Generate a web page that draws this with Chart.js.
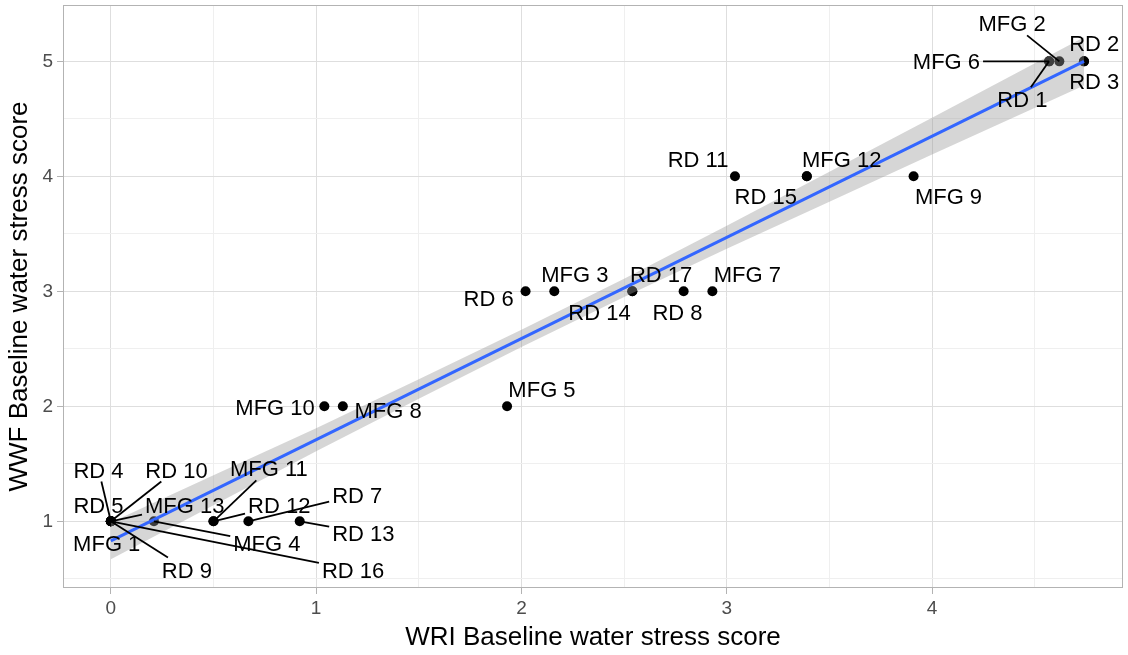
<!DOCTYPE html>
<html>
<head>
<meta charset="utf-8">
<script src="https://cdn.jsdelivr.net/npm/chart.js@4"></script>
<style>
  html, body { margin: 0; padding: 0; background: #fff; }
  #wrap { width: 1128px; height: 655px; }
</style>
</head>
<body>
<div id="wrap"><canvas id="chart" width="1128" height="655"></canvas></div>
<script>
// points (WRI score, WWF score)
const pointNames = ['RD 1', 'RD 2', 'RD 3', 'RD 4', 'RD 5', 'RD 6', 'RD 7', 'RD 8', 'RD 9', 'RD 10',
    'RD 11', 'RD 12', 'RD 13', 'RD 14', 'RD 15', 'RD 16', 'RD 17',
    'MFG 1', 'MFG 2', 'MFG 3', 'MFG 4', 'MFG 5', 'MFG 6', 'MFG 7', 'MFG 8', 'MFG 9',
    'MFG 10', 'MFG 11', 'MFG 12', 'MFG 13'];
const wriScore = [4.57, 4.74, 4.74, 0, 0, 2.02, 0.67, 2.79, 0, 0,
    3.04, 0.50, 0.92, 2.54, 3.39, 0, 2.54,
    0, 4.62, 2.16, 0.21, 1.93, 4.57, 2.93, 1.13, 3.91,
    1.04, 0.50, 3.39, 0];
const wwfScore = [5, 5, 5, 1, 1, 3, 1, 3, 1, 1,
    4, 1, 1, 3, 4, 1, 3,
    1, 5, 3, 1, 2, 5, 3, 2, 4,
    2, 1, 4, 1];

// where each repelled label sits (data units) and whether it gets a segment
const labelX = [4.44, 4.79, 4.79, -0.06, -0.06, 1.84, 1.20, 2.76, 0.37, 0.32,
    2.86, 0.82, 1.23, 2.38, 3.19, 1.18, 2.68,
    -0.02, 4.39, 2.26, 0.76, 2.10, 4.07, 3.10, 1.35, 4.08,
    0.80, 0.77, 3.56, 0.36];
const labelY = [4.67, 5.16, 4.83, 1.45, 1.14, 2.94, 1.23, 2.82, 0.58, 1.45,
    4.15, 1.14, 0.90, 2.82, 3.83, 0.58, 3.15,
    0.81, 5.33, 3.15, 0.81, 2.15, 5.0, 3.15, 1.97, 3.83,
    1.99, 1.46, 4.15, 1.14];
const labelLeader = [true, false, false, true, false, false, true, false, true, true,
    false, true, true, false, false, true, false,
    false, true, false, true, false, true, false, false, false,
    false, true, false, true];

// linear fit and its confidence band
const fitX = [0, 4.74];
const fitY = [0.83, 5.0];
const bandX = [0, 0.5, 1, 1.5, 2, 2.5, 3, 3.5, 4, 4.74];
const bandLow = [0.67, 1.14, 1.61, 2.065, 2.515, 2.95, 3.37, 3.78, 4.19, 4.79];
const bandHigh = [0.99, 1.40, 1.81, 2.235, 2.665, 3.11, 3.57, 4.04, 4.51, 5.21];

// grid positions (majors get labels)
const xGrid = [0, 0.5, 1, 1.5, 2, 2.5, 3, 3.5, 4, 4.5];
const yGrid = [0.5, 1, 1.5, 2, 2.5, 3, 3.5, 4, 4.5, 5];

const FONT = '"Liberation Sans", Arial, sans-serif';
const isMajor = v => Number.isInteger(v);

const panelBorder = {
    id: 'panelBorder',
    afterDatasetsDraw(chart) {
        const { ctx, chartArea: a } = chart;
        ctx.save();
        ctx.strokeStyle = '#b3b3b3';
        ctx.lineWidth = 1;
        ctx.strokeRect(a.left + 0.5, a.top + 0.5, a.right - a.left - 1, a.bottom - a.top - 1);
        ctx.restore();
    }
};

const repelLabels = {
    id: 'repelLabels',
    afterDraw(chart) {
        const { ctx, scales: { x, y } } = chart;
        ctx.save();
        ctx.font = '22px ' + FONT;
        ctx.textAlign = 'center';
        ctx.textBaseline = 'alphabetic';
        ctx.fillStyle = '#000';
        ctx.strokeStyle = '#000';
        ctx.lineWidth = 1.8;
        pointNames.forEach((name, i) => {
            const px = x.getPixelForValue(wriScore[i]);
            const py = y.getPixelForValue(wwfScore[i]);
            const lx = x.getPixelForValue(labelX[i]);
            const ly = y.getPixelForValue(labelY[i]);
            if (labelLeader[i]) {
                const hw = ctx.measureText(name).width / 2 + 3;
                const hh = 12;
                const dx = px - lx, dy = py - ly;
                const tx = dx !== 0 ? Math.abs(hw / dx) : Infinity;
                const ty = dy !== 0 ? Math.abs(hh / dy) : Infinity;
                const t = Math.min(tx, ty);
                ctx.beginPath();
                ctx.moveTo(lx + dx * t, ly + dy * t);
                ctx.lineTo(px, py);
                ctx.stroke();
            }
            ctx.fillText(name, lx, ly + 8);
        });
        ctx.restore();
    }
};

const gridColor = ctx => isMajor(ctx.tick.value) ? '#dedede' : '#efefef';
const tickColor = ctx => isMajor(ctx.tick.value) ? '#b3b3b3' : 'rgba(0,0,0,0)';
const noScalePadding = s => {
    s.paddingTop = 0;
    s.paddingBottom = 0;
    s.paddingLeft = 0;
    s.paddingRight = 0;
};

new Chart(document.getElementById('chart').getContext('2d'), {
    data: {
        datasets: [
            {
                type: 'scatter',
                data: wriScore.map((v, i) => ({ x: v, y: wwfScore[i] })),
                backgroundColor: '#000',
                borderWidth: 0,
                pointRadius: 5,
                order: 3
            },
            {
                type: 'line',
                data: bandX.map((v, i) => ({ x: v, y: bandLow[i] })),
                borderColor: 'rgba(0,0,0,0)',
                borderWidth: 0,
                pointRadius: 0,
                fill: false,
                order: 2
            },
            {
                type: 'line',
                data: bandX.map((v, i) => ({ x: v, y: bandHigh[i] })),
                borderColor: 'rgba(0,0,0,0)',
                borderWidth: 0,
                pointRadius: 0,
                backgroundColor: 'rgba(153,153,153,0.4)',
                fill: 1,
                order: 2
            },
            {
                type: 'line',
                data: fitX.map((v, i) => ({ x: v, y: fitY[i] })),
                borderColor: '#3366FF',
                borderWidth: 3,
                pointRadius: 0,
                fill: false,
                order: 1
            }
        ]
    },
    options: {
        responsive: false,
        animation: false,
        devicePixelRatio: 1,
        layout: { padding: { top: 5, right: 1, left: 0, bottom: 0 } },
        plugins: {
            legend: { display: false },
            tooltip: { enabled: false }
        },
        scales: {
            x: {
                type: 'linear',
                min: -0.233,
                max: 4.93,
                afterBuildTicks: s => { s.ticks = xGrid.map(v => ({ value: v })); },
                afterFit: s => { s.height = 67; noScalePadding(s); },
                border: { display: false },
                grid: { color: gridColor, tickColor: tickColor, tickLength: 6, lineWidth: 1 },
                ticks: {
                    autoSkip: false,
                    maxRotation: 0,
                    padding: 3,
                    color: '#4d4d4d',
                    font: { family: FONT, size: 19 },
                    callback: v => isMajor(v) ? String(v) : ''
                },
                title: {
                    display: true,
                    text: 'WRI Baseline water stress score',
                    color: '#000',
                    font: { family: FONT, size: 26 },
                    padding: { top: 0, bottom: 2 }
                }
            },
            y: {
                type: 'linear',
                min: 0.42,
                max: 5.49,
                afterBuildTicks: s => { s.ticks = yGrid.map(v => ({ value: v })); },
                afterFit: s => { s.width = 63; noScalePadding(s); },
                border: { display: false },
                grid: { color: gridColor, tickColor: tickColor, tickLength: 6, lineWidth: 1 },
                ticks: {
                    autoSkip: false,
                    padding: 4,
                    color: '#4d4d4d',
                    font: { family: FONT, size: 19 },
                    callback: v => isMajor(v) ? String(v) : ''
                },
                title: {
                    display: true,
                    text: 'WWF Baseline water stress score',
                    color: '#000',
                    font: { family: FONT, size: 26 },
                    padding: { top: 4, bottom: 0 }
                }
            }
        }
    },
    plugins: [panelBorder, repelLabels]
});
</script>
</body>
</html>
